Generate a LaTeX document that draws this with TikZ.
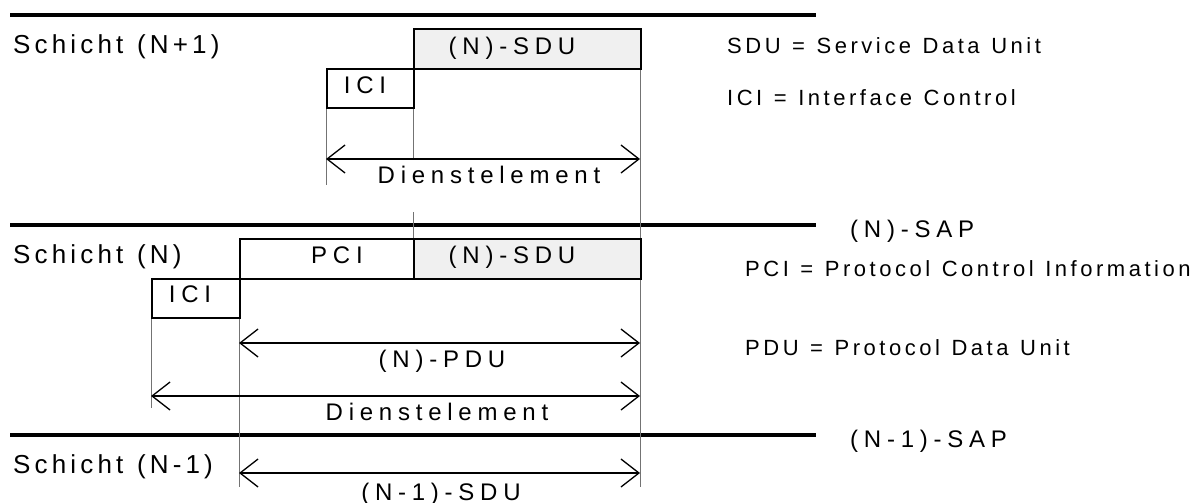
\documentclass[tikz,border=0pt]{standalone}
\usepackage{fontspec}
\setmainfont{Liberation Sans}
\newfontfamily\lblfont[LetterSpace=16,WordSpace=1.15]{Liberation Sans}
\newfontfamily\legfont[LetterSpace=16,WordSpace=1.2]{Liberation Sans}
\newfontfamily\diafont[LetterSpace=24]{Liberation Sans}
\usetikzlibrary{arrows.meta}
\tikzset{
  layerline/.style={line width=4pt},
  box/.style={draw, line width=2pt, rectangle, inner sep=0pt, anchor=north west},
  graybox/.style={box, fill=black!6},
  guide/.style={draw=black!55, line width=0.9pt},
  dimarrow/.style={line width=1.3pt, {Straight Barb[length=18pt,width=28pt]}-{Straight Barb[length=18pt,width=28pt]}},
  layerlbl/.style={anchor=base west, inner sep=0pt, font=\lblfont\fontsize{26}{30}\selectfont},
  legend/.style={anchor=base west, inner sep=0pt, font=\legfont\fontsize{22}{26}\selectfont},
  sap/.style={anchor=base west, inner sep=0pt, font=\diafont\fontsize{24}{28}\selectfont},
  dlbl/.style={anchor=base, inner sep=0pt, font=\diafont\fontsize{24}{28}\selectfont}
}
\begin{document}
\begin{tikzpicture}[x=1pt,y=-1pt]
\useasboundingbox (0,0) rectangle (1204,503);
% layer boundaries
\coordinate (l1a) at (10,15);  \coordinate (l1b) at (816,15);
\coordinate (l2a) at (10,225); \coordinate (l2b) at (816,225);
\coordinate (l3a) at (10,435); \coordinate (l3b) at (816,435);
\draw[layerline] (l1a) -- (l1b);
\draw[layerline] (l2a) -- (l2b);
\draw[layerline] (l3a) -- (l3b);

% layer labels
\node[layerlbl] (s1) at (13,53) {Schicht (N+1)};
\node[layerlbl] (s2) at (13,263) {Schicht (N)};
\node[layerlbl] (s3) at (13,473) {Schicht (N-1)};

% legend
\node[legend] (lsdu) at (727,53) {SDU = Service Data Unit};
\node[legend] (lici) at (727,105) {ICI = Interface Control};
\node[sap] (nsap) at (850,237) {(N)-SAP};
\node[legend] (lpci) at (745,276) {PCI = Protocol Control Information};
\node[legend] (lpdu) at (745,355) {PDU = Protocol Data Unit};
\node[sap] (n1sap) at (850,447) {(N-1)-SAP};

% guide lines
\coordinate (g1a) at (326,107); \coordinate (g1b) at (326,185);
\coordinate (g2a) at (413,68);  \coordinate (g2b) at (413,159);
\coordinate (g3a) at (413,212); \coordinate (g3b) at (413,238);
\coordinate (g4a) at (640,68);  \coordinate (g4b) at (640,487);
\coordinate (g5a) at (239,278); \coordinate (g5b) at (239,487);
\coordinate (g6a) at (151,317); \coordinate (g6b) at (151,408);
\draw[guide] (g1a) -- (g1b);
\draw[guide] (g2a) -- (g2b);
\draw[guide] (g3a) -- (g3b);
\draw[guide] (g4a) -- (g4b);
\draw[guide] (g5a) -- (g5b);
\draw[guide] (g6a) -- (g6b);

% layer N+1 boxes
\node[graybox, minimum width=227pt, minimum height=40pt] (sdu1) at (413,28) {};
\node[box, minimum width=87pt, minimum height=39pt] (ici1) at (326,68) {};
\node[dlbl] (tsdu1) at (512,55) {(N)-SDU};
\node[dlbl] (tici1) at (365,93) {ICI};

% layer N boxes
\node[box, minimum width=174pt, minimum height=40pt] (pci) at (239,238) {};
\node[graybox, minimum width=227pt, minimum height=40pt] (sdu2) at (413,238) {};
\node[box, minimum width=88pt, minimum height=39pt] (ici2) at (151,278) {};
\node[dlbl] (tpci) at (337,263) {PCI};
\node[dlbl] (tsdu2) at (512,263) {(N)-SDU};
\node[dlbl] (tici2) at (190,302) {ICI};

% dimension arrows
\coordinate (a1l) at (326,159); \coordinate (a1r) at (640,159);
\coordinate (a2l) at (239,343); \coordinate (a2r) at (640,343);
\coordinate (a3l) at (151,396); \coordinate (a3r) at (640,396);
\coordinate (a4l) at (239,473); \coordinate (a4r) at (640,473);
\draw[dimarrow] (a1l) -- (a1r);
\draw[dimarrow] (a2l) -- (a2r);
\draw[dimarrow] (a3l) -- (a3r);
\draw[dimarrow] (a4l) -- (a4r);
\node[dlbl] (d1) at (489,183) {Dienstelement};
\node[dlbl] (d2) at (442,367) {(N)-PDU};
\node[dlbl] (d3) at (437,420) {Dienstelement};
\node[dlbl] (d4) at (441,500) {(N-1)-SDU};
\end{tikzpicture}
\end{document}
